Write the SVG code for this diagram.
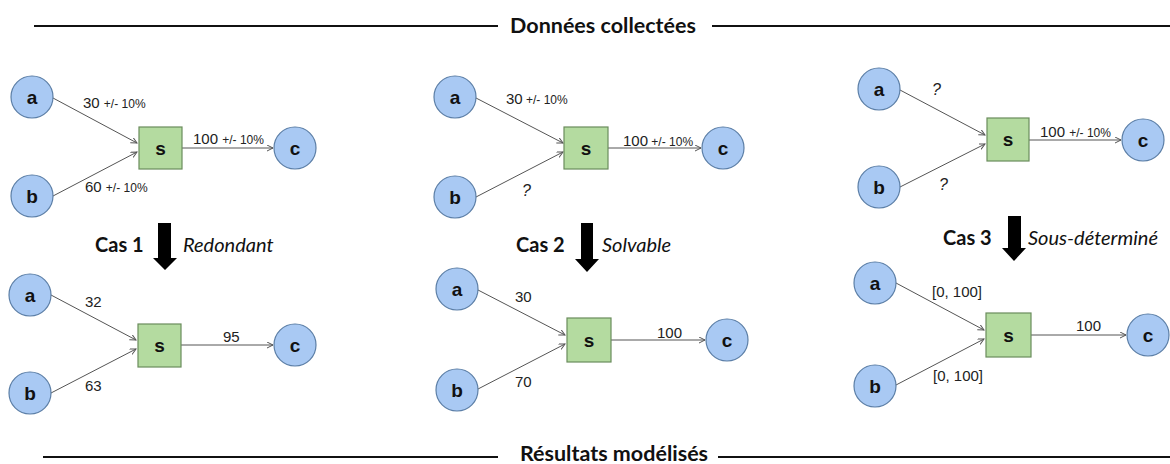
<svg xmlns="http://www.w3.org/2000/svg" width="1170" height="464" viewBox="0 0 1170 464">
<style>
.rule{stroke:#111;stroke-width:2;fill:none}
.hdr{font-family:Lato,"Open Sans",sans-serif;font-weight:bold;font-size:21.5px;fill:#111}
.cas{font-family:Lato,"Open Sans",sans-serif;font-weight:bold;font-size:20px;fill:#111}
.desc{font-family:Lato,"Open Sans",sans-serif;font-style:italic;font-size:20px;fill:#111}
.circ{fill:#a9c9f3;stroke:#5b7ea6;stroke-width:1.2}
.sq{fill:#b4dba0;stroke:#6a8c5c;stroke-width:1.2}
.nl{font-family:"Liberation Sans",Arial,sans-serif;font-weight:bold;font-size:19px;fill:#111;text-anchor:middle}
.edge{stroke:#555;stroke-width:1;fill:none;marker-end:url(#ah)}
.lbl{font-family:"Liberation Sans",Arial,sans-serif;font-size:15px;fill:#222}
.sm{font-size:12px}
.q{font-style:italic;font-size:16px}
.big{fill:#000}
</style>
<defs>
<marker id="ah" markerWidth="8" markerHeight="8" refX="6" refY="3" orient="auto" markerUnits="userSpaceOnUse">
<path d="M0,0 L6,3 L0,6" fill="none" stroke="#555" stroke-width="1"/>
</marker>
</defs>

<g id="headers">
<line class="rule" x1="34" y1="26" x2="498" y2="26"/>
<text class="hdr" x="603" y="33" text-anchor="middle">Données collectées</text>
<line class="rule" x1="712" y1="26" x2="1170" y2="26"/>
<line class="rule" x1="43" y1="457" x2="498" y2="457"/>
<text class="hdr" x="614" y="461" text-anchor="middle">Résultats modélisés</text>
<line class="rule" x1="718" y1="457" x2="1170" y2="457"/>
</g>

<g id="connectors">
<!-- panel 1 top -->
<line class="edge" x1="53" y1="98" x2="137" y2="143"/>
<line class="edge" x1="53" y1="196" x2="137" y2="152"/>
<line class="edge" x1="182" y1="148" x2="273" y2="148"/>
<!-- panel 2 top -->
<line class="edge" x1="476" y1="98" x2="563" y2="143"/>
<line class="edge" x1="476" y1="197" x2="563" y2="152"/>
<line class="edge" x1="608" y1="148" x2="701" y2="148"/>
<!-- panel 3 top -->
<line class="edge" x1="900" y1="90" x2="985" y2="135"/>
<line class="edge" x1="900" y1="187" x2="985" y2="144"/>
<line class="edge" x1="1029" y1="140" x2="1121" y2="140"/>
<!-- panel 1 bottom -->
<line class="edge" x1="51" y1="295" x2="136" y2="340"/>
<line class="edge" x1="51" y1="393" x2="136" y2="349"/>
<line class="edge" x1="181" y1="345" x2="273" y2="345"/>
<!-- panel 2 bottom -->
<line class="edge" x1="478" y1="290" x2="565" y2="335"/>
<line class="edge" x1="478" y1="389" x2="565" y2="344"/>
<line class="edge" x1="611" y1="340" x2="705" y2="340"/>
<!-- panel 3 bottom -->
<line class="edge" x1="896" y1="283" x2="984" y2="330"/>
<line class="edge" x1="896" y1="385" x2="984" y2="339"/>
<line class="edge" x1="1031" y1="335" x2="1126" y2="335"/>
<!-- big arrows -->
<path class="big" d="M158,223 H171 V258 H177 L165,270 L153,258 H158 Z"/>
<path class="big" d="M581,223 H593 V259 H599 L587,272 L575,259 H581 Z"/>
<path class="big" d="M1008,216 H1021 V248 H1026 L1014,261 L1002,248 H1008 Z"/>
</g>

<g id="edge-labels">
<text class="lbl" x="83" y="108">30 <tspan class="sm">+/- 10%</tspan></text>
<text class="lbl" x="85" y="192">60 <tspan class="sm">+/- 10%</tspan></text>
<text class="lbl" x="193" y="144">100 <tspan class="sm">+/- 10%</tspan></text>
<text class="lbl" x="506" y="104">30<tspan class="sm"> +/- 10%</tspan></text>
<text class="lbl q" x="522" y="196">?</text>
<text class="lbl" x="623" y="146">100<tspan class="sm"> +/- 10%</tspan></text>
<text class="lbl q" x="932" y="95">?</text>
<text class="lbl q" x="939" y="190">?</text>
<text class="lbl" x="1040" y="137">100 <tspan class="sm">+/- 10%</tspan></text>
<text class="lbl" x="85" y="307">32</text>
<text class="lbl" x="85" y="391">63</text>
<text class="lbl" x="223" y="342">95</text>
<text class="lbl" x="515" y="302">30</text>
<text class="lbl" x="515" y="387">70</text>
<text class="lbl" x="657" y="338">100</text>
<text class="lbl" x="932" y="297">[0, 100]</text>
<text class="lbl" x="933" y="381">[0, 100]</text>
<text class="lbl" x="1076" y="331">100</text>
<text class="cas" x="95" y="252">Cas 1</text>
<text class="desc" x="183" y="252">Redondant</text>
<text class="cas" x="516" y="252">Cas 2</text>
<text class="desc" x="602" y="252">Solvable</text>
<text class="cas" x="943" y="245">Cas 3</text>
<text class="desc" x="1028" y="245">Sous-déterminé</text>
</g>

<g id="p1-top">
<g id="n1a"><circle class="circ" cx="32" cy="97" r="21"/><text class="nl" x="32" y="104">a</text></g>
<g id="n1b"><circle class="circ" cx="32" cy="196" r="21"/><text class="nl" x="32" y="203">b</text></g>
<g id="n1s"><rect class="sq" x="139" y="127" width="43" height="42"/><text class="nl" x="160.5" y="155">s</text></g>
<g id="n1c"><circle class="circ" cx="295" cy="148" r="21"/><text class="nl" x="295" y="155">c</text></g>
</g>
<g id="p2-top">
<g id="n2a"><circle class="circ" cx="455" cy="97" r="21"/><text class="nl" x="455" y="104">a</text></g>
<g id="n2b"><circle class="circ" cx="455" cy="197" r="21"/><text class="nl" x="455" y="204">b</text></g>
<g id="n2s"><rect class="sq" x="564" y="127" width="44" height="42"/><text class="nl" x="586" y="155">s</text></g>
<g id="n2c"><circle class="circ" cx="723" cy="148" r="21"/><text class="nl" x="723" y="155">c</text></g>
</g>
<g id="p3-top">
<g id="n3a"><circle class="circ" cx="879" cy="89" r="21"/><text class="nl" x="879" y="96">a</text></g>
<g id="n3b"><circle class="circ" cx="879" cy="187" r="21"/><text class="nl" x="879" y="194">b</text></g>
<g id="n3s"><rect class="sq" x="987" y="118" width="42" height="43"/><text class="nl" x="1008" y="146">s</text></g>
<g id="n3c"><circle class="circ" cx="1143" cy="140" r="21"/><text class="nl" x="1143" y="147">c</text></g>
</g>
<g id="p1-bot">
<g id="r1a"><circle class="circ" cx="30" cy="295" r="21"/><text class="nl" x="30" y="302">a</text></g>
<g id="r1b"><circle class="circ" cx="30" cy="393" r="21"/><text class="nl" x="30" y="400">b</text></g>
<g id="r1s"><rect class="sq" x="138" y="324" width="43" height="43"/><text class="nl" x="159.5" y="352">s</text></g>
<g id="r1c"><circle class="circ" cx="295" cy="345" r="21"/><text class="nl" x="295" y="352">c</text></g>
</g>
<g id="p2-bot">
<g id="r2a"><circle class="circ" cx="457" cy="289" r="21"/><text class="nl" x="457" y="296">a</text></g>
<g id="r2b"><circle class="circ" cx="457" cy="390" r="21"/><text class="nl" x="457" y="397">b</text></g>
<g id="r2s"><rect class="sq" x="567" y="318" width="44" height="44"/><text class="nl" x="589" y="347">s</text></g>
<g id="r2c"><circle class="circ" cx="727" cy="340" r="21"/><text class="nl" x="727" y="347">c</text></g>
</g>
<g id="p3-bot">
<g id="r3a"><circle class="circ" cx="875" cy="283" r="21"/><text class="nl" x="875" y="290">a</text></g>
<g id="r3b"><circle class="circ" cx="875" cy="386" r="21"/><text class="nl" x="875" y="393">b</text></g>
<g id="r3s"><rect class="sq" x="986" y="313" width="45" height="44"/><text class="nl" x="1008.5" y="342">s</text></g>
<g id="r3c"><circle class="circ" cx="1148" cy="335" r="21"/><text class="nl" x="1148" y="342">c</text></g>
</g>
</svg>
